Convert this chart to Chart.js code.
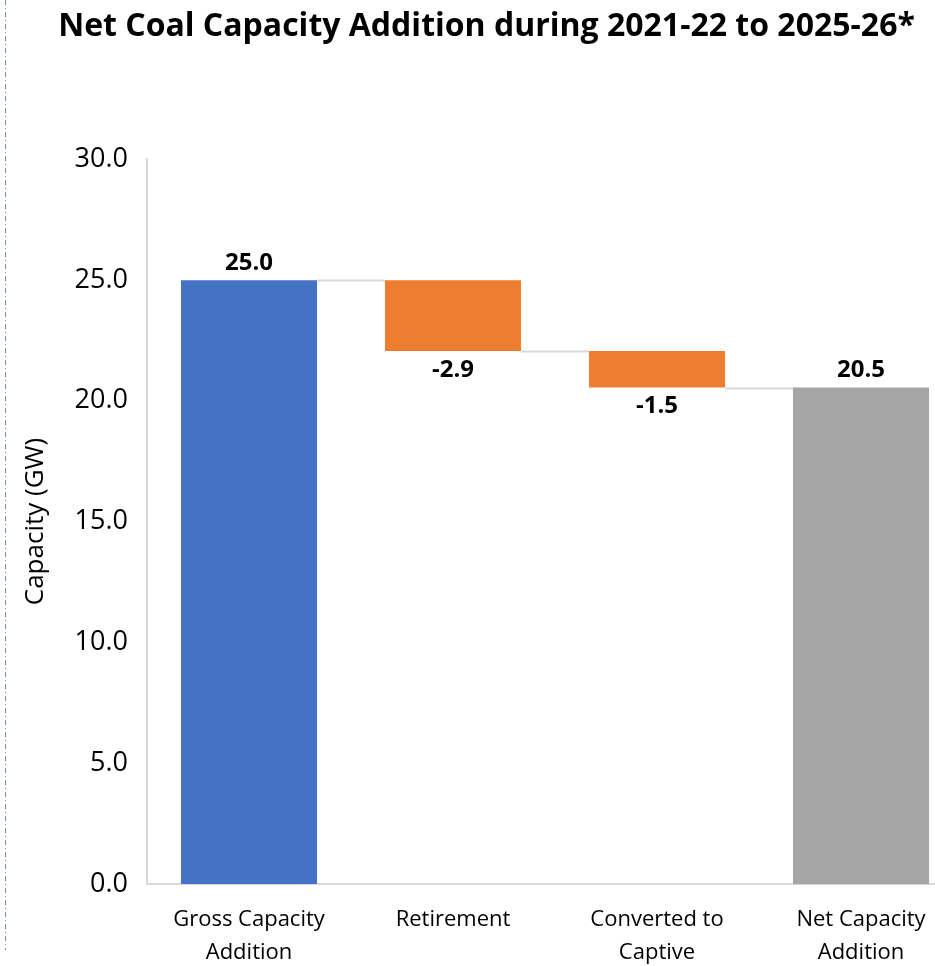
<!DOCTYPE html>
<html>
<head>
<meta charset="utf-8">
<script src="https://cdn.jsdelivr.net/npm/chart.js@4/dist/chart.umd.min.js"></script>
<style>
  html, body { margin: 0; padding: 0; background: #fff; overflow: hidden; }
</style>
</head>
<body>
<canvas id="myChart" width="975" height="966"></canvas>
<script>
// waterfall data
var categories = [['Gross Capacity', 'Addition'], 'Retirement', ['Converted to', 'Captive'], ['Net Capacity', 'Addition']];
var changes = [24.98, -2.92, -1.52];
var netTotal = 20.54;
var barColors = ['#4472C4', '#ED7D31', '#ED7D31', '#A5A5A5'];
var yTicks = [0, 5, 10, 15, 20, 25, 30];

var FONT = "'Open Sans', sans-serif";

// floating bars: [start, end] for each step, then the total from zero
var ranges = [];
var values = [];
var running = 0;
for (var i = 0; i < changes.length; i++) {
  var start = running;
  running = running + changes[i];
  ranges.push([start, running]);
  values.push(changes[i]);
}
ranges.push([0, netTotal]);
values.push(netTotal);

var waterfallExtras = {
  id: 'waterfallExtras',
  afterDatasetsDraw: function (chart) {
    var ctx = chart.ctx;
    var meta = chart.getDatasetMeta(0);
    var y = chart.scales.y;
    ctx.save();
    // connector lines between bars
    ctx.strokeStyle = '#d9d9d9';
    ctx.lineWidth = 2;
    for (var i = 0; i < meta.data.length - 1; i++) {
      var a = meta.data[i], b = meta.data[i + 1];
      var level = ranges[i][1];
      var py = Math.round(y.getPixelForValue(level)) + 0.5;
      ctx.beginPath();
      ctx.moveTo(a.x + a.width / 2, py);
      ctx.lineTo(b.x - b.width / 2, py);
      ctx.stroke();
    }
    // value labels
    ctx.font = 'bold 24px ' + FONT;
    ctx.fillStyle = '#000';
    ctx.textAlign = 'center';
    ctx.textBaseline = 'middle';
    for (var j = 0; j < meta.data.length; j++) {
      var bar = meta.data[j];
      var top = Math.min(bar.y, bar.base);
      var bottom = Math.max(bar.y, bar.base);
      var txt = values[j].toFixed(1);
      if (values[j] >= 0) {
        ctx.fillText(txt, bar.x, top - 17);
      } else {
        ctx.fillText(txt, bar.x, bottom + 19);
      }
    }
    // dashed frame edge on the left
    ctx.strokeStyle = '#6d8cc9';
    ctx.lineWidth = 1;
    ctx.setLineDash([5, 3, 1, 3]);
    ctx.beginPath();
    ctx.moveTo(5.5, 0);
    ctx.lineTo(5.5, 950);
    ctx.stroke();
    ctx.restore();
  }
};

var ctx = document.getElementById('myChart');
var myChart = new Chart(ctx, {
  type: 'bar',
  data: {
    labels: categories,
    datasets: [{
      data: ranges,
      backgroundColor: barColors,
      borderWidth: 0,
      barPercentage: 1,
      categoryPercentage: 0.667
    }]
  },
  options: {
    responsive: false,
    animation: false,
    layout: {
      padding: { left: 10, right: 12, top: 0, bottom: 0 }
    },
    plugins: {
      legend: { display: false },
      tooltip: { enabled: false },
      title: {
        display: true,
        text: 'Net Coal Capacity Addition during 2021-22 to 2025-26*',
        color: '#000',
        font: { family: FONT, size: 32, weight: 'bold', lineHeight: 1.2 },
        padding: { top: 8, bottom: 112.6 }
      }
    },
    scales: {
      x: {
        grid: { display: false, drawTicks: false },
        border: { display: true, color: '#d9d9d9', width: 2 },
        ticks: {
          color: '#000',
          padding: 19,
          maxRotation: 0,
          autoSkip: false,
          font: { family: FONT, size: 22, lineHeight: 1.5 }
        },
        afterFit: function (scale) { scale.height = 82; }
      },
      y: {
        min: 0,
        max: 30,
        grid: { display: false, drawTicks: false },
        border: { display: true, color: '#d9d9d9', width: 2 },
        afterBuildTicks: function (scale) {
          scale.ticks = yTicks.map(function (v) { return { value: v }; });
        },
        ticks: {
          color: '#000',
          padding: 19,
          font: { family: FONT, size: 27 },
          callback: function (v) { return Number(v).toFixed(1); }
        },
        title: {
          display: true,
          text: 'Capacity (GW)',
          color: '#000',
          font: { family: FONT, size: 26, lineHeight: 1.2 },
          padding: { top: 10, bottom: 0 }
        },
        afterFit: function (scale) { scale.width = 137; }
      }
    }
  },
  plugins: [waterfallExtras]
});
</script>
</body>
</html>
